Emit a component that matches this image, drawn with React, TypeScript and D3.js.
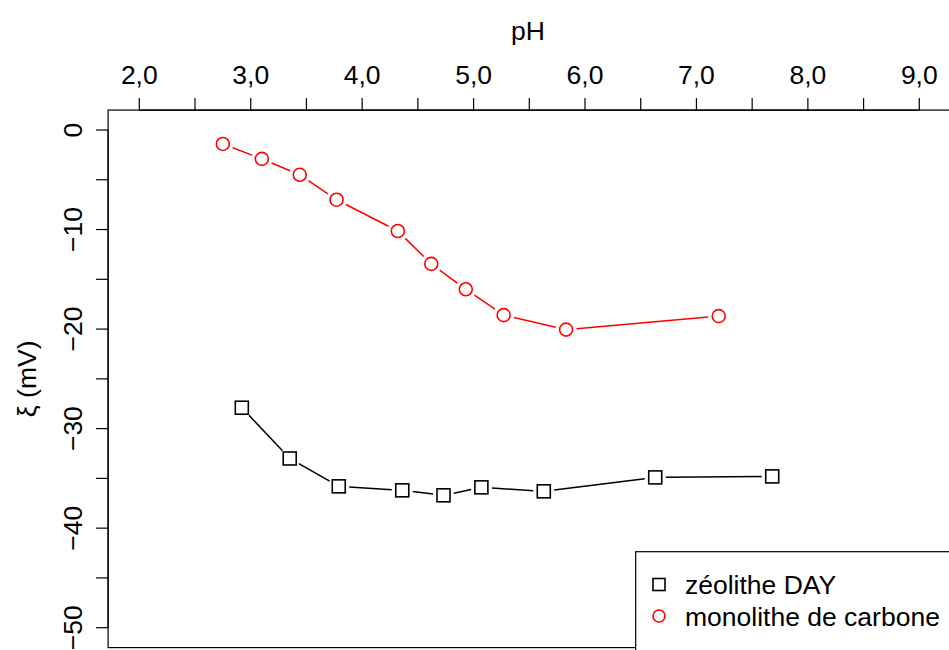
import React from "react";
import * as d3 from "d3";

// ---- data ----
const zeoliteLabel = "zéolithe DAY";
const carbonLabel = "monolithe de carbone";
const zeolitePH = [2.92, 3.35, 3.79, 4.36, 4.73, 5.07, 5.63, 6.63, 7.68];
const zeoliteZeta = [-27.9, -33.0, -35.8, -36.2, -36.7, -35.9, -36.3, -34.9, -34.8];
const carbonPH = [2.75, 3.1, 3.44, 3.77, 4.32, 4.62, 4.93, 5.27, 5.83, 7.2];
const carbonZeta = [-1.4, -2.9, -4.5, -7.0, -10.15, -13.45, -16.0, -18.6, -20.05, -18.7];
const xTicksMajor = [2, 3, 4, 5, 6, 7, 8, 9];
const xTicksMinor = [2, 2.5, 3, 3.5, 4, 4.5, 5, 5.5, 6, 6.5, 7, 7.5, 8, 8.5, 9];
const yTicksMajor = [0, -10, -20, -30, -40, -50];
const yTicksMinor = [0, -5, -10, -15, -20, -25, -30, -35, -40, -45, -50];

const FONT = "'Liberation Sans', Arial, Helvetica, sans-serif";
const FS = 26.5;

export default function App() {
  const x = d3.scaleLinear().domain([2, 9]).range([139.3, 919.3]);
  const y = d3.scaleLinear().domain([0, -50]).range([130, 627.7]);
  const left = x(1.72);
  const right = x(9.28);
  const top = y(2);
  const bottom = y(-52);
  const fmtX = (v: number) => d3.format(".1f")(v).replace(".", ",");
  const fmtY = d3.format("d");
  const line = d3.line<[number, number]>();

  const gapSegments = (xs: number[], ys: number[], gap: number) => {
    const segs: [number, number][][] = [];
    for (let i = 0; i < xs.length - 1; i++) {
      const x0 = x(xs[i]), y0 = y(ys[i]), x1 = x(xs[i + 1]), y1 = y(ys[i + 1]);
      const dx = x1 - x0, dy = y1 - y0;
      const L = Math.hypot(dx, dy);
      if (L <= 2 * gap) continue;
      const ux = dx / L, uy = dy / L;
      segs.push([
        [x0 + ux * gap, y0 + uy * gap],
        [x1 - ux * gap, y1 - uy * gap],
      ]);
    }
    return segs;
  };

  const zSegs = gapSegments(zeolitePH, zeoliteZeta, 10.5);
  const cSegs = gapSegments(carbonPH, carbonZeta, 10.5);
  const sq = 13;
  const r = 6.5;

  const legX = 635.7;
  const legY = 551.7;
  const row1 = 584.5;
  const row2 = 616;

  return (
    <svg
      width={949}
      height={650}
      style={{ position: "absolute", left: 0, top: 0, background: "#fff" }}
      fontFamily={FONT}
    >
      <rect x={0} y={0} width={949} height={650} fill="#fff" />
      {/* plot box */}
      <rect x={left} y={top} width={right - left} height={bottom - top} fill="none" stroke="#000" strokeWidth={1.2} />

      {/* top x axis */}
      <line x1={x(2)} x2={x(9)} y1={top} y2={top} stroke="#000" strokeWidth={1.2} />
      {xTicksMinor.map((t) => (
        <line key={"xt" + t} x1={x(t)} x2={x(t)} y1={top} y2={top - 12} stroke="#000" strokeWidth={1.2} />
      ))}
      {xTicksMajor.map((t) => (
        <text key={"xl" + t} x={x(t)} y={83.5} textAnchor="middle" fontSize={FS} fill="#000">
          {fmtX(t)}
        </text>
      ))}
      <text x={528} y={40} textAnchor="middle" fontSize={FS} fill="#000">
        pH
      </text>

      {/* left y axis */}
      <line x1={left} x2={left} y1={y(0)} y2={y(-50)} stroke="#000" strokeWidth={1.2} />
      {yTicksMinor.map((t) => (
        <line key={"yt" + t} x1={left} x2={left - 12} y1={y(t)} y2={y(t)} stroke="#000" strokeWidth={1.2} />
      ))}
      {yTicksMajor.map((t) => (
        <text
          key={"yl" + t}
          transform={`translate(82,${y(t)}) rotate(-90)`}
          textAnchor="middle"
          fontSize={FS}
          fill="#000"
        >
          {fmtY(t)}
        </text>
      ))}
      <text
        transform={`translate(36,${(top + bottom) / 2}) rotate(-90)`}
        textAnchor="middle"
        fontSize={FS}
        fill="#000"
      >
        ξ (mV)
      </text>

      {/* zeolite series */}
      {zSegs.map((s, i) => (
        <path key={"zs" + i} d={line(s) || ""} stroke="#000" strokeWidth={1.5} fill="none" />
      ))}
      {zeolitePH.map((p, i) => (
        <rect
          key={"zp" + i}
          x={x(p) - sq / 2}
          y={y(zeoliteZeta[i]) - sq / 2}
          width={sq}
          height={sq}
          fill="none"
          stroke="#000"
          strokeWidth={1.6}
        />
      ))}

      {/* carbon series */}
      {cSegs.map((s, i) => (
        <path key={"cs" + i} d={line(s) || ""} stroke="#ff0000" strokeWidth={1.5} fill="none" />
      ))}
      {carbonPH.map((p, i) => (
        <circle key={"cp" + i} cx={x(p)} cy={y(carbonZeta[i])} r={r} fill="none" stroke="#ff0000" strokeWidth={1.6} />
      ))}

      {/* legend */}
      <rect x={legX} y={legY} width={400} height={200} fill="#fff" stroke="#000" strokeWidth={1.2} />
      <rect x={659 - 6} y={row1 - 6} width={12} height={12} fill="none" stroke="#000" strokeWidth={1.6} />
      <circle cx={659} cy={row2} r={6} fill="none" stroke="#ff0000" strokeWidth={1.6} />
      <text x={685} y={row1 + 9.5} fontSize={FS} fill="#000">
        {zeoliteLabel}
      </text>
      <text x={685} y={row2 + 9.5} fontSize={FS} fill="#000">
        {carbonLabel}
      </text>
    </svg>
  );
}
